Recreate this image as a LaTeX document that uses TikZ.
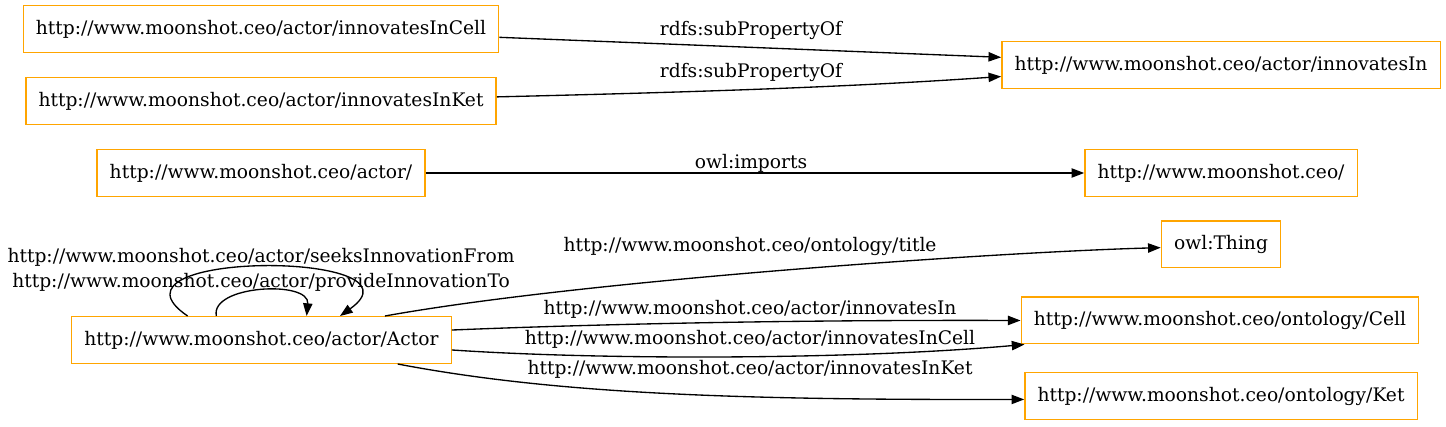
\documentclass[tikz,border=0pt]{standalone}
\usepackage{fontspec}
\setmainfont{DejaVu Serif}
\usetikzlibrary{arrows.meta}
\definecolor{boxorange}{HTML}{FFA500}

\begin{document}
\begin{tikzpicture}[x=0.75pt,y=-0.75pt,
  term/.style={draw=boxorange, line width=1pt, rectangle, minimum height=35pt, inner xsep=9.5pt, font=\fontsize{14}{17}\selectfont},
  rel/.style={-{Triangle[length=9.5pt,width=7pt]}, line width=1pt},
  lbl/.style={inner sep=0pt, font=\fontsize{14}{17}\selectfont}]
  \useasboundingbox (0,0) rectangle (1446,427);

  \node[term] (inCell) at (261,29) {http://www.moonshot.ceo/actor/innovatesInCell};
  \node[term] (inKet) at (261,101) {http://www.moonshot.ceo/actor/innovatesInKet};
  \node[term] (inIn) at (1221,65) {http://www.moonshot.ceo/actor/innovatesIn};
  \node[term] (actorNs) at (261,173) {http://www.moonshot.ceo/actor/};
  \node[term] (moonNs) at (1221,173) {http://www.moonshot.ceo/};
  \node[term] (thing) at (1221,244.5) {owl:Thing};
  \node[term] (cellOnt) at (1220,320.5) {http://www.moonshot.ceo/ontology/Cell};
  \node[term] (ketOnt) at (1221,396) {http://www.moonshot.ceo/ontology/Ket};
  \node[term] (actor) at (261.5,340) {http://www.moonshot.ceo/actor/Actor};

  \draw[rel] (inCell.-2) -- (inIn.178); % sub property
  \draw[rel] (inKet.1) .. controls (700,92) and (850,87) .. (inIn.183);
  \draw[rel] (actorNs) -- (moonNs); % imports

  \draw[rel] (actor.11) .. controls (585,280) and (1000,252) .. (thing.183);
  \draw[rel] (actor.3.6) .. controls (650,322) and (850,320) .. (cellOnt.west);
  \draw[rel] (actor.-3.3) .. controls (600,360) and (850,360) .. (cellOnt.187.5);
  \draw[rel] (actor.-10.4) .. controls (560,395) and (750,400) .. (ketOnt.181);
  \draw[rel] (actor.162.1) .. controls (90,250) and (433,250) .. (actor.17.9); % self loops
  \draw[rel] (actor.152.2) .. controls (210,285) and (310,280) .. (actor.28.9);

  \node[lbl] (subOf1) at (751,30) {rdfs:subPropertyOf};
  \node[lbl] (subOf2) at (751,72) {rdfs:subPropertyOf};
  \node[lbl] (imports) at (751,163) {owl:imports};
  \node[lbl] (seeks) at (261,257) {http://www.moonshot.ceo/actor/seeksInnovationFrom};
  \node[lbl] (provide) at (261,282) {http://www.moonshot.ceo/actor/provideInnovationTo};
  \node[lbl] (title) at (750,246) {http://www.moonshot.ceo/ontology/title};
  \node[lbl] (innIn) at (750,309) {http://www.moonshot.ceo/actor/innovatesIn};
  \node[lbl] (innCell) at (750,339) {http://www.moonshot.ceo/actor/innovatesInCell};
  \node[lbl] (innKet) at (750,369) {http://www.moonshot.ceo/actor/innovatesInKet};
\end{tikzpicture}
\end{document}
